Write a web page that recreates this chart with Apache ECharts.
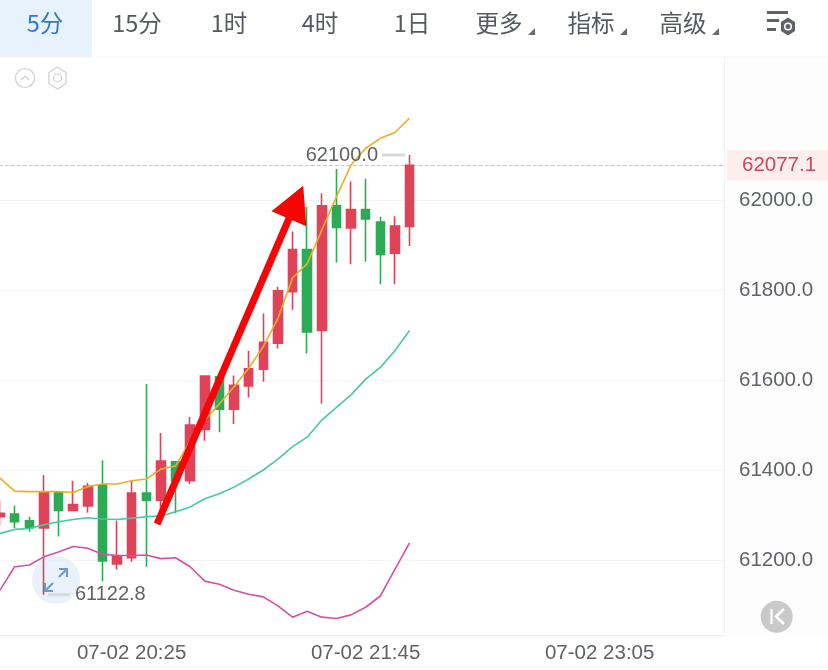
<!DOCTYPE html>
<html>
<head>
<meta charset="utf-8">
<style>html,body{margin:0;padding:0;background:#fff}#kline{width:828px;height:670px}</style>
<script src="https://cdn.jsdelivr.net/npm/echarts@6/dist/echarts.min.js"></script>
</head>
<body>
<div id="kline"></div>
<script>
// Five-minute bars, including the empty sessions to the right of the last bar
const times = [
  '07-02 19:40','07-02 19:45','07-02 19:50','07-02 19:55','07-02 20:00','07-02 20:05','07-02 20:10','07-02 20:15','07-02 20:20','07-02 20:25',
  '07-02 20:30','07-02 20:35','07-02 20:40','07-02 20:45','07-02 20:50','07-02 20:55','07-02 21:00','07-02 21:05','07-02 21:10','07-02 21:15',
  '07-02 21:20','07-02 21:25','07-02 21:30','07-02 21:35','07-02 21:40','07-02 21:45','07-02 21:50','07-02 21:55','07-02 22:00','07-02 22:05',
  '07-02 22:10','07-02 22:15','07-02 22:20','07-02 22:25','07-02 22:30','07-02 22:35','07-02 22:40','07-02 22:45','07-02 22:50','07-02 22:55',
  '07-02 23:00','07-02 23:05','07-02 23:10','07-02 23:15','07-02 23:20','07-02 23:25','07-02 23:30','07-02 23:35','07-02 23:40','07-02 23:45'
];
const timeTicks = ['07-02 20:25','07-02 21:45','07-02 23:05'];
const priceTicks = [61200,61400,61600,61800,62000];

// open, close, low, high
const bars = [
  [61296,61304,61278,61333],[61302,61285,61271,61321],[61287,61272,61263,61296],[61271,61351,61122.8,61389],
  [61350,61310,61252,61351],[61310,61323,61310,61376],[61320,61364,61305,61371],[61367,61198,61153,61421],
  [61191,61209,61179,61287],[61205,61349,61196,61376],[61349,61333,61185,61591],[61333,61420,61300,61482],
  [61418,61376,61304,61420],[61376,61500,61369,61518],[61490,61609,61465,61609],[61607,61535,61484,61609],
  [61535,61588,61502,61610],[61587,61625,61561,61665],[61624,61684,61596,61748],[61682,61798,61670,61807],
  [61796,61890,61756,61930],[61890,61707,61659,61985],[61710,61987,61547,62015],[61987,61939,61861,62069],
  [61938,61979,61857,62041],[61979,61958,61863,62047],[61951,61879,61813,61963],[61882,61942,61813,61964],
  [61941,62077.1,61898,62100]
];
const upperBand = [61382,61353,61352,61352,61352,61350,61363,61369,61369,61376,61380,61402,61409,61464,61511,61547,61585,61626,61674,61737,61827,61858,61933,62007,62078,62115,62137,62150,62182];
const middleBand = [61259,61268,61270,61278,61285,61290,61294,61291,61290,61293,61296,61298,61307,61318,61336,61347,61362,61380,61400,61424,61452,61473,61511,61539,61567,61602,61628,61665,61710];
const lowerBand = [61133,61185,61189,61207,61218,61230,61226,61213,61210,61210,61211,61203,61205,61185,61153,61146,61133,61124,61118,61098,61073,61086,61073,61070,61078,61095,61120,61179,61238];

const lastPrice = 62077.1;
const highPoint = [28, 62100];
const lowPoint = [3, 61122.8];
// Trend arrow drawn on the chart, in bar index and price
const arrowFrom = [10.74, 61280];
const arrowTo = [20.24, 61995];

const tabLabels = [['5分',45],['15分',137],['1时',229],['4时',320],['1日',412],['更多',499],['指标',591],['高级',683]];
const menuCorners = [528,620,712];

const UP = '#e04358', DOWN = '#2daa55', GREY = '#5f6368';
const cjk = '"Noto Sans CJK SC","Liberation Sans",sans-serif';
const latin = '"Liberation Sans",Arial,sans-serif';

function hexagon(cx, cy, r) {
  const pts = [];
  for (let k = 0; k < 6; k++) {
    const a = Math.PI / 3 * k + Math.PI / 6;
    pts.push([cx + r * 0.9 * Math.cos(a), cy + r * Math.sin(a)]);
  }
  return pts;
}

const toolbar = [
  {type:'rect', shape:{x:724,y:57,width:104,height:578}, style:{fill:'#fdfdfd'}, silent:true, z:0},
  {type:'rect', shape:{x:0,y:0,width:92,height:57}, style:{fill:'#e8f2fd'}, z:1},
  {type:'line', shape:{x1:0,y1:57,x2:828,y2:57}, style:{stroke:'#f4f4f4',lineWidth:1}, z:1}
];
tabLabels.forEach((t, i) => toolbar.push({
  type:'text', x:t[1], y:23, z:2,
  style:{text:t[0], fontFamily:cjk, fontSize:23.5, fill:i === 0 ? '#2f78d0' : '#555a60', align:'center', verticalAlign:'middle'}
}));
menuCorners.forEach(x => toolbar.push({
  type:'polygon', z:2, shape:{points:[[x+7,28],[x+7,35],[x,35]]}, style:{fill:'#666b70'}
}));
toolbar.push(
  // settings icon
  {type:'rect', z:2, shape:{x:767,y:11,width:21,height:3}, style:{fill:GREY}},
  {type:'rect', z:2, shape:{x:767,y:19,width:12,height:3}, style:{fill:GREY}},
  {type:'rect', z:2, shape:{x:767,y:28,width:9,height:3}, style:{fill:GREY}},
  {type:'polygon', z:2, shape:{points:hexagon(788,26.5,9)}, style:{fill:GREY}},
  {type:'circle', z:3, shape:{cx:788,cy:26.5,r:4}, style:{fill:'#fff'}},
  {type:'circle', z:3, shape:{cx:788,cy:26.5,r:2.5}, style:{fill:GREY}},
  // collapse and indicator buttons
  {type:'circle', z:2, shape:{cx:25,cy:78,r:9.5}, style:{fill:'none',stroke:'#cfcfcf',lineWidth:1.2}},
  {type:'polyline', z:2, shape:{points:[[21,80],[25,76],[29,80]]}, style:{fill:'none',stroke:'#cfcfcf',lineWidth:1.2}},
  {type:'polygon', z:2, shape:{points:hexagon(57.5,78,11)}, style:{fill:'none',stroke:'#cfcfcf',lineWidth:1.2}},
  {type:'circle', z:2, shape:{cx:57.5,cy:78,r:4}, style:{fill:'none',stroke:'#cfcfcf',lineWidth:1.2}},
  // expand button
  {type:'circle', z:4, shape:{cx:56,cy:580,r:24}, style:{fill:'#dbe8f8',opacity:0.6}},
  {type:'polyline', z:30, shape:{points:[[59,577],[67,569]]}, style:{stroke:'#6f98c9',lineWidth:2}},
  {type:'polyline', z:30, shape:{points:[[59,569],[67,569],[67,577]]}, style:{fill:'none',stroke:'#6f98c9',lineWidth:2}},
  {type:'polyline', z:30, shape:{points:[[45,591],[53,583]]}, style:{stroke:'#6f98c9',lineWidth:2}},
  {type:'polyline', z:30, shape:{points:[[45,583],[45,591],[53,591]]}, style:{fill:'none',stroke:'#6f98c9',lineWidth:2}},
  // jump-to-latest button
  {type:'circle', z:4, shape:{cx:776.7,cy:616.7,r:16}, style:{fill:'#c9c9c9'}},
  {type:'line', z:5, shape:{x1:771.5,y1:609,x2:771.5,y2:624}, style:{stroke:'#fff',lineWidth:2.2}},
  {type:'polyline', z:5, shape:{points:[[784,609],[776,616.5],[784,624]]}, style:{fill:'none',stroke:'#fff',lineWidth:2.6}},
  // footer rule
  {type:'line', z:1, shape:{x1:0,y1:667,x2:828,y2:667}, style:{stroke:'#f2f2f2',lineWidth:1}}
);

function band(name, data, color) {
  return {
    name, type:'line', data, showSymbol:false, silent:true, z:6,
    lineStyle:{color, width:1.6}, itemStyle:{color}
  };
}

const chart = echarts.init(document.getElementById('kline'), null, {renderer:'canvas'});
chart.setOption({
  animation:false,
  backgroundColor:'#ffffff',
  graphic:{elements:toolbar},
  grid:{left:-7.31, right:104, top:57, bottom:35, containLabel:false, outerBoundsMode:'none'},
  xAxis:[{
    type:'category', data:times, boundaryGap:true,
    axisLine:{lineStyle:{color:'#f0f0f0',width:1}},
    axisTick:{show:false}, splitLine:{show:false},
    axisLabel:{
      color:'#5f6368', fontFamily:latin, fontSize:20.5, margin:8, hideOverlap:false,
      interval:(i, v) => timeTicks.includes(v)
    }
  },{
    type:'value', min:-0.5, max:49.5, show:false
  }],
  yAxis:{
    type:'value', position:'right', min:61033.33, max:62317.8, scale:true,
    axisLine:{show:true, onZero:false, lineStyle:{color:'#f2f2f2',width:1}},
    axisTick:{show:false, customValues:priceTicks},
    splitLine:{show:true, lineStyle:{color:'#f4f4f4',width:1}},
    axisLabel:{
      color:'#5f6368', fontFamily:latin, fontSize:20.5, margin:15, padding:[2,0,0,0],
      customValues:priceTicks,
      formatter:v => v.toFixed(1)
    }
  },
  series:[
    {
      name:'K', type:'candlestick', data:bars, barWidth:9, z:5,
      itemStyle:{color:UP, color0:DOWN, borderColor:UP, borderColor0:DOWN, borderWidth:1.6},
      markLine:{
        silent:true, symbol:'none', z:4,
        lineStyle:{color:'#c4c4c4', type:'dashed', width:1},
        data:[{yAxis:lastPrice}],
        label:{
          position:'end', distance:3, color:'#c9485f', fontFamily:latin, fontSize:20.5,
          backgroundColor:'#fdeeee', padding:[5,18,4,15],
          formatter:() => lastPrice.toFixed(1)
        }
      },
      markPoint:{
        silent:true, z:7,
        data:[
          {coord:highPoint, value:highPoint[1], symbol:'rect', symbolSize:[23,3], symbolOffset:[-16,0],
            label:{position:'left', distance:4}},
          {coord:lowPoint, value:lowPoint[1], symbol:'rect', symbolSize:[22,3], symbolOffset:[15,0],
            label:{position:'right', distance:5}}
        ],
        itemStyle:{color:'#d8d8d8'},
        label:{show:true, color:'#5f6368', fontFamily:latin, fontSize:20, formatter:p => p.value.toFixed(1)}
      }
    },
    band('上轨', upperBand, '#ecb024'),
    band('中轨', middleBand, '#45c9a6'),
    band('下轨', lowerBand, '#d64fa6'),
    {
      name:'趋势', type:'line', xAxisIndex:1, yAxisIndex:0, z:20,
      data:[arrowFrom, arrowTo], showSymbol:false, silent:true,
      lineStyle:{width:0},
      markLine:{
        silent:true, z:20, animation:false,
        symbol:['none','triangle'], symbolSize:[38,36],
        lineStyle:{color:'#f50505', width:7, type:'solid', opacity:1},
        label:{show:false},
        data:[[{coord:arrowFrom},{coord:arrowTo}]]
      }
    }
  ]
});
</script>
</body>
</html>
